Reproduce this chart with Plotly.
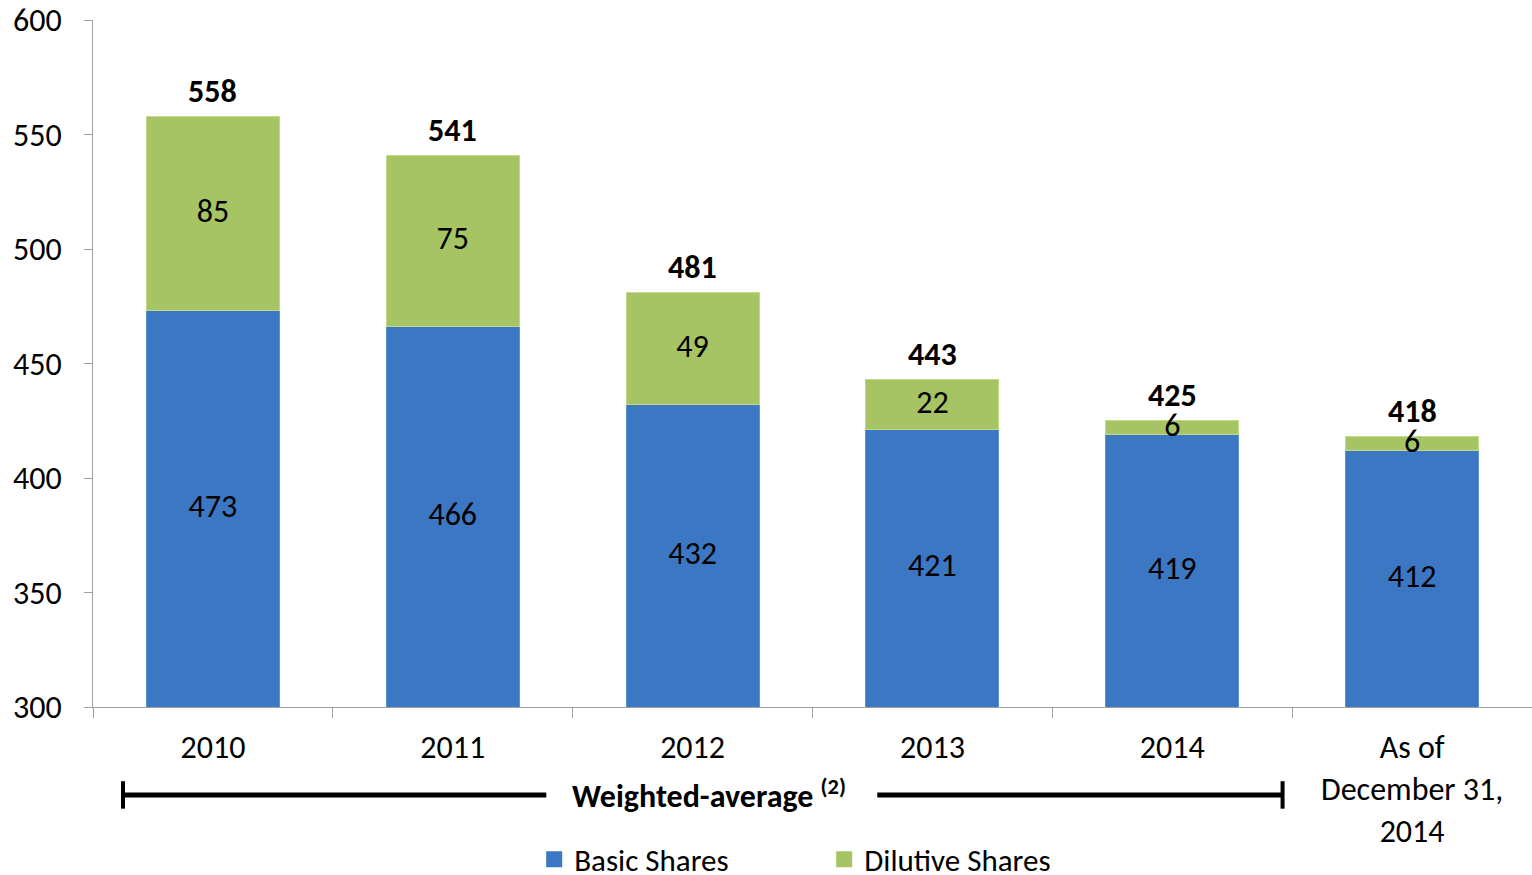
import plotly.graph_objects as go

categories = ["2010", "2011", "2012", "2013", "2014", "As of<br>December 31,<br>2014"]
basic = [473, 466, 432, 421, 419, 412]
dilutive = [85, 75, 49, 22, 6, 6]
totals = [558, 541, 481, 443, 425, 418]
y_ticks = [300, 350, 400, 450, 500, 550, 600]
y_min, y_max = 300, 600

FONT = "Carlito, Lato, sans-serif"
FS = 32

BLUE = "#3c77c4"
GREEN = "#a6c463"

fig = go.Figure()
fig.add_bar(
    x=categories, y=basic, name="Basic Shares", showlegend=False,
    marker=dict(color=BLUE, line=dict(color="#5b92d8", width=1)),
)
fig.add_bar(
    x=categories, y=dilutive, name="Dilutive Shares", showlegend=False,
    marker=dict(color=GREEN, line=dict(color="#c2d98a", width=1)),
)
# labels centred in the visible part of each segment
fig.add_scatter(
    x=categories, y=[(y_min + b) / 2 for b in basic], mode="text",
    text=[str(v) for v in basic], textposition="middle center",
    textfont=dict(color="black", size=FS, family=FONT),
    showlegend=False, hoverinfo="skip",
)
fig.add_scatter(
    x=categories, y=[b + d / 2 for b, d in zip(basic, dilutive)], mode="text",
    text=[str(v) for v in dilutive], textposition="middle center",
    textfont=dict(color="black", size=FS, family=FONT),
    showlegend=False, hoverinfo="skip", cliponaxis=False,
)
# totals above each stack (category index positions)
for i, t in enumerate(totals):
    fig.add_annotation(x=i, y=t, xref="x", yref="y", text=f"<b>{t}</b>", showarrow=False,
                       yanchor="middle", yshift=25,
                       font=dict(color="black", size=FS, family=FONT))
# legend entries
for nm, col in [("Basic Shares", BLUE), ("Dilutive Shares", GREEN)]:
    fig.add_scatter(x=[None], y=[None], mode="markers", name=nm,
                    marker=dict(symbol="square", size=18, color=col))

fig.update_layout(
    barmode="stack", bargap=0.445,
    width=1532, height=875,
    margin=dict(l=93, r=0, t=20, b=168, autoexpand=False),
    plot_bgcolor="white", paper_bgcolor="white",
    font=dict(family=FONT, size=FS, color="black"),
    legend=dict(orientation="h", x=0.3066, xanchor="left", y=-0.222, yanchor="middle",
                font=dict(size=31, family=FONT), traceorder="normal",
                entrywidth=245, entrywidthmode="pixels", itemsizing="trace"),
    showlegend=True,
)
fig.update_yaxes(
    range=[y_min, y_max], tickvals=y_ticks, showgrid=False, showline=True,
    linecolor="#a0a0a0", linewidth=1, ticks="outside", ticklen=8, tickcolor="#a0a0a0",
    tickfont=dict(size=FS, family=FONT), zeroline=False, ticklabelstandoff=16,
)
fig.update_xaxes(
    showline=True, linecolor="#a0a0a0", linewidth=1, ticks="outside", ticklen=10,
    tickcolor="#a0a0a0", tickson="boundaries", tickfont=dict(size=FS, family=FONT),
    range=[-0.5, 5.5], ticklabelstandoff=12,
)

# Weighted-average bracket
line_y = -0.128
cap = 0.02
for x0, x1 in [(-0.375, 1.39), (2.77, 4.46)]:
    fig.add_shape(type="line", xref="x", yref="paper", x0=x0, x1=x1, y0=line_y, y1=line_y,
                  line=dict(color="black", width=5))
for xc in [-0.375, 4.46]:
    fig.add_shape(type="line", xref="x", yref="paper", x0=xc, x1=xc, y0=line_y - cap, y1=line_y + cap,
                  line=dict(color="black", width=4))
fig.add_annotation(xref="x", yref="paper", x=2.07, y=line_y, text="<b>Weighted-average</b> <sup><b>(2)</b></sup>",
                   showarrow=False, font=dict(size=FS, family=FONT), xanchor="center", yanchor="middle")

fig.write_html("out.html", config={"displayModeBar": False},
               post_script="document.body.style.margin='0';")
